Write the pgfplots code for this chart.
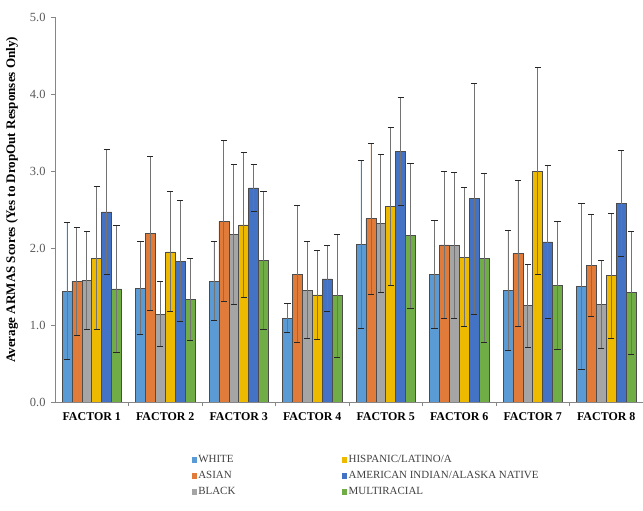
\documentclass[border=0pt]{standalone}
\usepackage{fontspec}
\setmainfont{Liberation Serif}
\usepackage{pgfplots}
\pgfplotsset{compat=1.18}
\usepackage{pgfplotstable}

\definecolor{cWhite}{HTML}{5B9BD5}
\definecolor{cAsian}{HTML}{E07B39}
\definecolor{cBlack}{HTML}{A5A5A5}
\definecolor{cHisp}{HTML}{EDBA00}
\definecolor{cAmInd}{HTML}{4472C4}
\definecolor{cMulti}{HTML}{70AD47}
\definecolor{axisgray}{HTML}{868686}
\definecolor{ticktext}{HTML}{595959}

% mean score and standard deviation per group, one row per factor
\pgfplotstableread{
x W    eW   A    eA   B    eB   H    eH   I    eI   M    eM
0 1.44 0.89 1.57 0.70 1.58 0.64 1.87 0.93 2.47 0.81 1.47 0.82
1 1.48 0.60 2.19 1.00 1.14 0.42 1.95 0.78 1.83 0.79 1.33 0.53
2 1.57 0.51 2.35 1.05 2.18 0.91 2.30 0.94 2.78 0.31 1.84 0.90
3 1.09 0.19 1.66 0.89 1.45 0.63 1.39 0.58 1.60 0.43 1.38 0.80
4 2.05 1.09 2.38 0.98 2.32 0.90 2.54 1.02 3.25 0.70 2.16 0.94
5 1.66 0.70 2.04 0.95 2.03 0.95 1.88 0.90 2.64 1.50 1.87 1.10
6 1.45 0.78 1.93 0.95 1.25 0.54 3.00 1.34 2.08 0.99 1.51 0.83
7 1.50 1.08 1.77 0.66 1.27 0.57 1.64 0.81 2.58 0.69 1.42 0.80
}\data

\pgfplotsset{
  errstyle/.style={
    error bars/.cd, y dir=both, y explicit,
    error bar style={draw=black!55, line width=0.8bp},
    error mark options={rotate=90, draw=black!85, mark size=3bp, line width=0.9bp}
  }
}

\begin{document}
\begin{tikzpicture}
\path[use as bounding box] (0,0) rectangle (643bp,511bp);
\begin{axis}[
  at={(55bp,109bp)}, anchor=south west,
  scale only axis, width=588bp, height=385bp,
  ybar=0pt, bar width=9.9bp,
  xmin=-0.5, xmax=7.5, ymin=0, ymax=5,
  axis lines*=left,
  axis line style={draw=axisgray, line width=0.8bp, -},
  xtick={0,...,7},
  xticklabels={FACTOR 1,FACTOR 2,FACTOR 3,FACTOR 4,FACTOR 5,FACTOR 6,FACTOR 7,FACTOR 8},
  major x tick style={draw=none},
  minor xtick={0.5,1.5,...,6.5},
  minor tick length=4bp,
  major tick length=4bp,
  tick align=outside,
  tick style={draw=axisgray, line width=0.8bp},
  xticklabel style={font=\fontsize{12}{14}\selectfont\bfseries, text=black, yshift=-3bp},
  ytick={0,1,2,3,4,5},
  yticklabel style={font=\fontsize{12.5}{14}\selectfont, text=ticktext, xshift=-2bp,
    /pgf/number format/.cd, fixed, fixed zerofill, precision=1, assume math mode=true},
  ylabel={Average ARMAS Scores (Yes to DropOut Responses Only)},
  ylabel style={font=\fontsize{13.1}{15}\selectfont\bfseries, at={(axis description cs:-0.073,0.525)}, anchor=center},
  legend columns=2,
  legend cell align=left,
  legend image code/.code={\fill[#1, draw=none] (0bp,-2.6bp) rectangle (5.2bp,2.6bp);},
  legend style={
    at={(axis description cs:0.232,-0.135)}, anchor=north west,
    draw=none, fill=none, inner sep=0pt,
    font=\fontsize{11}{12}\selectfont, text=black!75,
    row sep=4.2bp,
    nodes={inner sep=1.5bp},
    /tikz/every even column/.append style={column sep=105bp}
  },
]
\addplot[fill=cWhite, draw=black!70, line width=0.6bp, bar shift=-24.75bp, forget plot, errstyle]
  table[x=x, y=W, y error=eW] {\data};
\addplot[fill=cAsian, draw=black!70, line width=0.6bp, bar shift=-14.85bp, forget plot, errstyle]
  table[x=x, y=A, y error=eA] {\data};
\addplot[fill=cBlack, draw=black!70, line width=0.6bp, bar shift=-4.95bp, forget plot, errstyle]
  table[x=x, y=B, y error=eB] {\data};
\addplot[fill=cHisp, draw=black!70, line width=0.6bp, bar shift=4.95bp, forget plot, errstyle]
  table[x=x, y=H, y error=eH] {\data};
\addplot[fill=cAmInd, draw=black!70, line width=0.6bp, bar shift=14.85bp, forget plot, errstyle]
  table[x=x, y=I, y error=eI] {\data};
\addplot[fill=cMulti, draw=black!70, line width=0.6bp, bar shift=24.75bp, forget plot, errstyle]
  table[x=x, y=M, y error=eM] {\data};

% legend laid out row by row in two columns
\addlegendimage{fill=cWhite}  \addlegendentry{WHITE}
\addlegendimage{fill=cHisp}   \addlegendentry{HISPANIC/LATINO/A}
\addlegendimage{fill=cAsian}  \addlegendentry{ASIAN}
\addlegendimage{fill=cAmInd}  \addlegendentry{AMERICAN INDIAN/ALASKA NATIVE}
\addlegendimage{fill=cBlack}  \addlegendentry{BLACK}
\addlegendimage{fill=cMulti}  \addlegendentry{MULTIRACIAL}
\end{axis}
\end{tikzpicture}
\end{document}
